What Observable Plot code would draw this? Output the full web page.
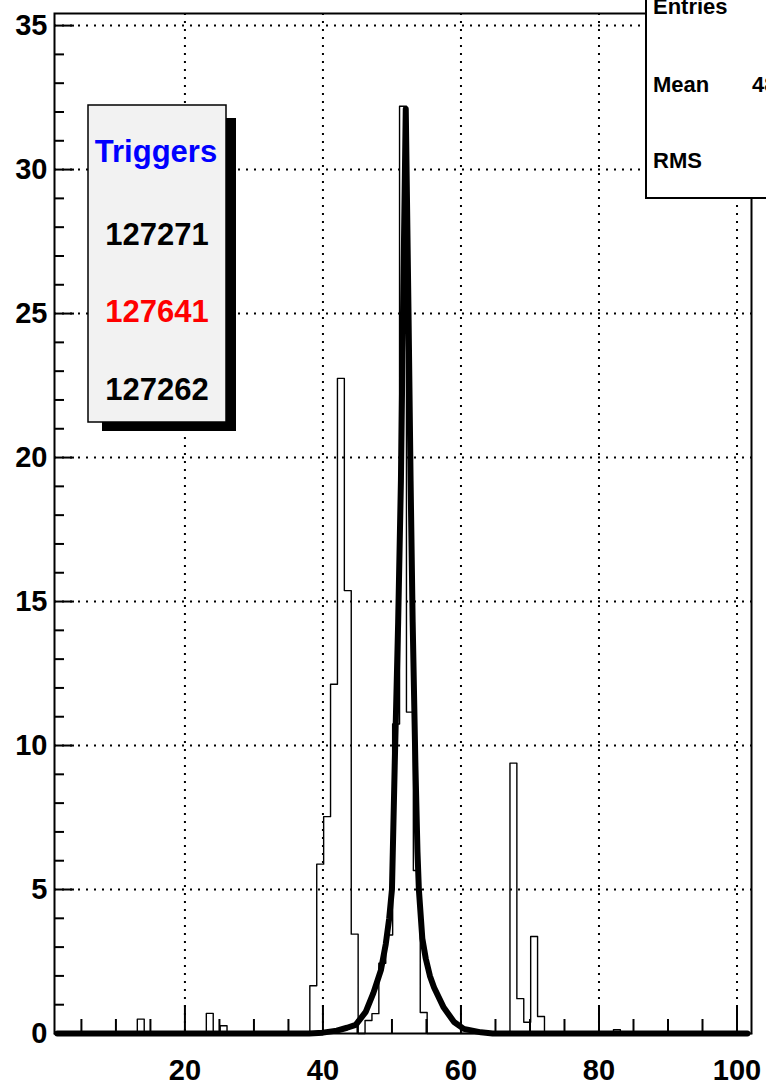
<!DOCTYPE html>
<html><head><meta charset="utf-8">
<script src="https://cdn.jsdelivr.net/npm/d3@7"></script>
<script src="https://cdn.jsdelivr.net/npm/@observablehq/plot@0.6"></script>
<style>
html,body{margin:0;padding:0;background:#fff;overflow:hidden;}
#chart{position:relative;width:766px;height:1086px;overflow:hidden;}
</style></head><body><div id="chart"></div>
<script>
// Histogram: 101 bins of width 1 from 1.1 to 102.1; the non-empty bins are listed by their lower edge
const histStart = 1.1, histEnd = 102.1, binWidth = 1;
const binLow     = [13.1, 23.1, 25.1, 38.1, 39.1, 40.1, 41.1, 42.1, 43.1, 44.1,
                    46.1, 47.1, 48.1, 49.1, 50.1, 51.1, 52.1, 53.1, 54.1,
                    67.1, 68.1, 69.1, 70.1, 71.1, 82.1];
const binContent = [0.5, 0.7, 0.27, 1.66, 5.88, 7.53, 12.13, 22.75, 15.38, 3.45,
                    0.45, 0.69, 2.44, 3.42, 10.75, 32.2, 11.16, 5.66, 0.73,
                    9.39, 1.21, 0.39, 3.37, 0.59, 0.13];

// Fit curve
const fitX = [1.5, 38.0, 40.0, 42.0, 43.5, 44.75, 46.2, 47.3, 48.4, 49.1, 49.6, 50.0, 50.4, 50.9, 51.3, 51.6, 52.0,
              52.4, 52.7, 53.0, 53.4, 53.7, 53.9, 54.4, 54.9, 55.5, 56.1, 57.5, 59.0, 60.4, 62.9, 64.6, 101.5];
const fitY = [0, 0, 0.03, 0.1, 0.2, 0.3, 0.75, 1.4, 2.2, 3.1, 4.0, 5.0, 9.3, 14.3, 19.2, 25.0, 32.1,
              25.0, 19.2, 14.3, 9.3, 6.3, 5.0, 3.3, 2.6, 2.0, 1.6, 0.9, 0.4, 0.16, 0.04, 0, 0];

const yMax = 35.42;
const yTicks = [0, 5, 10, 15, 20, 25, 30, 35];
const yMinorTicks = [1,2,3,4,6,7,8,9,11,12,13,14,16,17,18,19,21,22,23,24,26,27,28,29,31,32,33,34];
const xTicks = [20, 40, 60, 80, 100];
const xMinorTicks = [5,10,15,25,30,35,45,50,55,65,70,75,85,90,95];

const legendTitle = "Triggers";
const legendRuns = ["127271", "127641", "127262"];
const legendColors = ["#000000", "#ff0000", "#000000"];
const statNames = ["Entries", "Mean", "RMS"];
const meanValue = "48.71";

// build full binned table
const nBins = Math.round((histEnd - histStart) / binWidth);
const hist = d3.range(nBins).map(i => {
  const lo = histStart + i * binWidth;
  const k = binLow.findIndex(b => Math.abs(b - lo) < 1e-6);
  return {x: lo, y: k >= 0 ? binContent[k] : 0};
});
hist.push({x: histEnd, y: hist[hist.length - 1].y});
const fit = fitX.map((x, i) => ({x, y: fitY[i]}));

const W = 766, H = 1086, mL = 54, mR = 15, mT = 13, mB = 53;
const plotW = W - mL - mR, plotH = H - mT - mB;
const FONT = "'Liberation Sans', Arial, Helvetica, sans-serif";

const chart = Plot.plot({
  width: W, height: H,
  marginLeft: mL, marginRight: mR, marginTop: mT, marginBottom: mB,
  style: {fontFamily: FONT, fontWeight: "bold", fontSize: "29px", color: "black", background: "white"},
  x: {domain: [histStart, histEnd], label: null},
  y: {domain: [0, yMax], label: null},
  marks: [
    Plot.ruleX(xTicks, {x: d => d, stroke: "black", strokeWidth: 2, strokeDasharray: "2,6"}),
    Plot.ruleY(yTicks.filter(d => d > 0), {y: d => d, stroke: "black", strokeWidth: 2, strokeDasharray: "2,6"}),
    Plot.line(hist, {x: "x", y: "y", curve: "step-after", stroke: "black", strokeWidth: 1.4}),
    Plot.line(fit, {x: "x", y: "y", stroke: "black", strokeWidth: 6, strokeLinejoin: "round"}),
    Plot.ruleX(xMinorTicks, {x: d => d, insetTop: plotH - 14, stroke: "black", strokeWidth: 2}),
    Plot.ruleX(xTicks, {x: d => d, insetTop: plotH - 28, stroke: "black", strokeWidth: 2}),
    Plot.ruleY(yMinorTicks, {y: d => d, insetRight: plotW - 10, stroke: "black", strokeWidth: 2}),
    Plot.ruleY(yTicks, {y: d => d, insetRight: plotW - 20, stroke: "black", strokeWidth: 2}),
    Plot.frame({stroke: "black", strokeWidth: 2}),
    Plot.axisX({ticks: xTicks, tickSize: 0, tickPadding: 26, label: null}),
    Plot.axisY({ticks: yTicks, tickSize: 0, tickPadding: 7, label: null})
  ]
});
document.getElementById("chart").appendChild(chart);

const svg = d3.select(chart);
// legend (TPave with shadow)
const lg = svg.append("g").attr("font-family", FONT).attr("font-weight", "bold").attr("text-anchor", "middle");
lg.append("rect").attr("x", 102).attr("y", 118).attr("width", 134).attr("height", 313).attr("fill", "black");
lg.append("rect").attr("x", 88).attr("y", 105).attr("width", 138).attr("height", 317)
  .attr("fill", "#f2f2f2").attr("stroke", "black").attr("stroke-width", 1.5);
lg.append("text").attr("x", 156).attr("y", 162)
  .attr("font-size", 31).attr("fill", "#0000ff").text(legendTitle);
const runBase = [245, 322, 400];
legendRuns.forEach((r, i) => {
  lg.append("text").attr("x", 157).attr("y", runBase[i])
    .attr("font-size", 31).attr("fill", legendColors[i]).text(r);
});

// statistics box (partly outside the canvas)
const sb = svg.append("g").attr("font-family", FONT).attr("font-weight", "bold")
  .attr("font-size", 22).attr("text-anchor", "start");
sb.append("rect").attr("x", 646).attr("y", -20).attr("width", 220).attr("height", 218)
  .attr("fill", "white").attr("stroke", "black").attr("stroke-width", 2);
const statBase = [14, 92, 168];
statNames.forEach((s, i) => {
  sb.append("text").attr("x", 653).attr("y", statBase[i]).attr("text-anchor", "start").text(s);
});
sb.append("text").attr("x", 752).attr("y", statBase[1]).attr("text-anchor", "start").text(meanValue);
</script></body></html>
